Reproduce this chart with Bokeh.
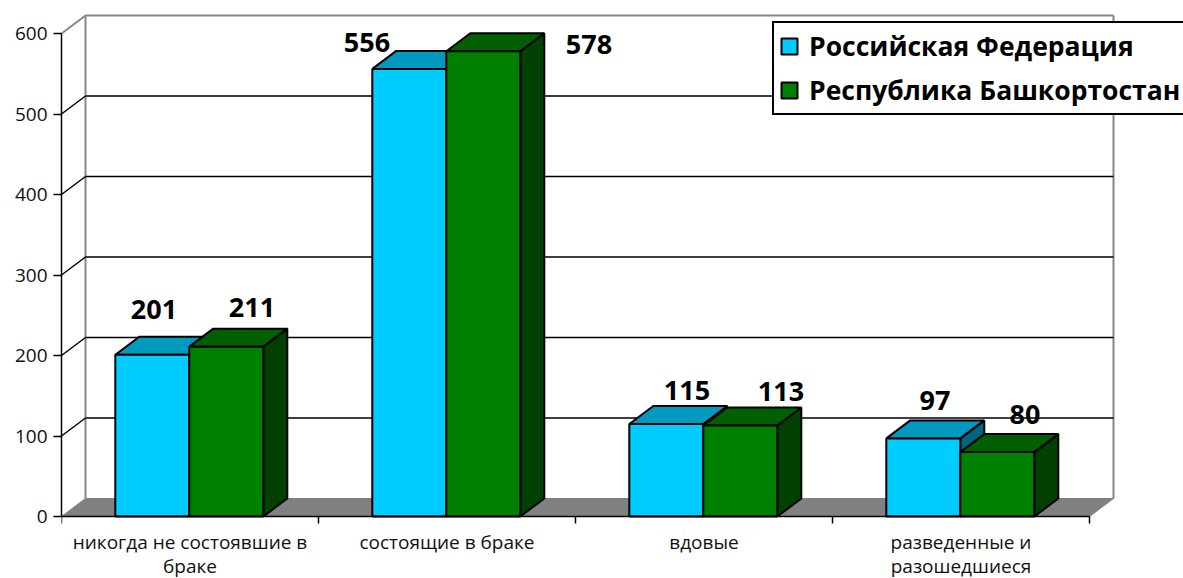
from bokeh.plotting import figure
from bokeh.models import ColumnDataSource, FixedTicker, Legend, LegendItem, LinearAxis
from bokeh.embed import file_html
from bokeh.resources import INLINE
from bokeh.core.properties import value

categories = [["никогда не состоявшие в", "браке"], ["состоящие в браке"], ["вдовые"], ["разведенные и", "разошедшиеся"]]
russia = [201, 556, 115, 97]
bashkortostan = [211, 578, 113, 80]
y_ticks = [0, 100, 200, 300, 400, 500, 600]
series_names = ["Российская Федерация", "Республика Башкортостан"]

# label nudges in pixels from the top-front centre of each bar
russia_label_dx = [1, -43, 20, 11]
russia_label_dy = [-45, -26, -33, -38]
bash_label_dx = [25, 105, 40, 27]
bash_label_dy = [-39, -7, -34, -38]

PX_X = 257.0
PX_Y = 0.805
DX = 24 / PX_X
DY = 18 / PX_Y
BAR = 74 / PX_X
SHIFT = 0.7 / PX_X
FONT = "Open Sans"

p = figure(width=1183, height=578, output_backend="svg", toolbar_location=None,
           x_range=(0, (1183 - 61) / PX_X), y_range=(-62 / PX_Y, 516 / PX_Y),
           min_border_left=61, min_border_right=0, min_border_top=0, min_border_bottom=0,
           x_axis_location=None, y_axis_location=None, background_fill_color="white",
           border_fill_color="white", outline_line_color=None)
p.grid.visible = False

# y axis
ya = LinearAxis(ticker=FixedTicker(ticks=y_ticks), bounds=(0, 600),
                axis_line_color="black", axis_line_width=1.5,
                major_tick_line_color="black", major_tick_line_width=1.5,
                major_tick_out=8, major_tick_in=0, minor_tick_out=0, minor_tick_in=0,
                major_label_standoff=6, major_label_text_font=FONT,
                major_label_text_font_size="19px", major_label_text_color="#111111")
p.add_layout(ya, "left")

n = len(categories)

# floor
p.patch([0, DX, n + DX, n], [0, DY, DY, 0], fill_color="#808080", line_color="#808080")

# walls and gridlines
wall = "#868686"
p.segment([DX, DX, n + DX, 0], [DY, 600 + DY, DY, 600], [DX, n + DX, n + DX, DX],
          [600 + DY, 600 + DY, 600 + DY, 600 + DY], line_color=wall, line_width=2)
gv = [t for t in y_ticks[1:-1]]
p.segment([DX] * len(gv), [v + DY for v in gv], [n + DX] * len(gv), [v + DY for v in gv],
          line_color="black", line_width=1.5)
p.segment([0] * len(gv), gv, [DX] * len(gv), [v + DY for v in gv], line_color="black", line_width=1.5)


def box(x, v, front, top, side):
    p.patch([x + BAR, x + BAR + DX, x + BAR + DX, x + BAR], [0, DY, v + DY, v],
            fill_color=side, line_color="black", line_width=2)
    p.patch([x, x + DX, x + BAR + DX, x + BAR], [v, v + DY, v + DY, v],
            fill_color=top, line_color="black", line_width=2)
    return p.quad(left=x, right=x + BAR, bottom=0, top=v, fill_color=front,
                  line_color="black", line_width=2)


blue_r = green_r = None
for i in range(n):
    x0 = i + 0.5 - BAR - SHIFT
    blue_r = box(x0, russia[i], "#00CCFF", "#0099BF", "#006680")
    green_r = box(x0 + BAR, bashkortostan[i], "#008000", "#006000", "#004000")

# x axis at value 0: tick marks at category boundaries
xa = LinearAxis(fixed_location=0, ticker=FixedTicker(ticks=[], minor_ticks=list(range(n + 1))), bounds=(0, n),
                axis_line_color="black", axis_line_width=1.5,
                major_tick_out=0, major_tick_in=0,
                minor_tick_line_color="black", minor_tick_line_width=1.5,
                minor_tick_out=7, minor_tick_in=0)
p.add_layout(xa, "below")

# category labels, one per line
cx, cy, ct = [], [], []
for i, lines in enumerate(categories):
    for j, line in enumerate(lines):
        cx.append(i + 0.5)
        cy.append(-(25 + 24 * j) / PX_Y)
        ct.append(line)
p.text(x=cx, y=cy, text=ct, text_align="center", text_baseline="middle", text_font=value(FONT),
       text_font_size="19px", text_color="#111111")

# value labels
lx = [i + 0.5 - BAR / 2 for i in range(n)] + [i + 0.5 + BAR / 2 for i in range(n)]
vals = russia + bashkortostan
src = ColumnDataSource(dict(x=lx, y=vals, t=[str(v) for v in vals],
                            xo=russia_label_dx + bash_label_dx, yo=russia_label_dy + bash_label_dy))
p.text(x="x", y="y", text="t", x_offset="xo", y_offset="yo", source=src, text_align="center",
       text_baseline="middle", text_font=value(FONT), text_font_style="bold",
       text_font_size="27px", text_color="black")

legend = Legend(items=[LegendItem(label=series_names[0], renderers=[blue_r]),
                       LegendItem(label=series_names[1], renderers=[green_r])],
                location=(711, 463), margin=0, padding=5, spacing=8,
                glyph_width=20, glyph_height=20, label_standoff=10, label_height=30,
                label_text_font=FONT, label_text_font_style="bold", label_text_font_size="26.5px",
                label_text_color="black", border_line_color="black", border_line_alpha=1.0, border_line_width=2,
                background_fill_color="white", background_fill_alpha=1.0)
p.add_layout(legend)

open("out.html", "w").write(file_html(p, INLINE))
